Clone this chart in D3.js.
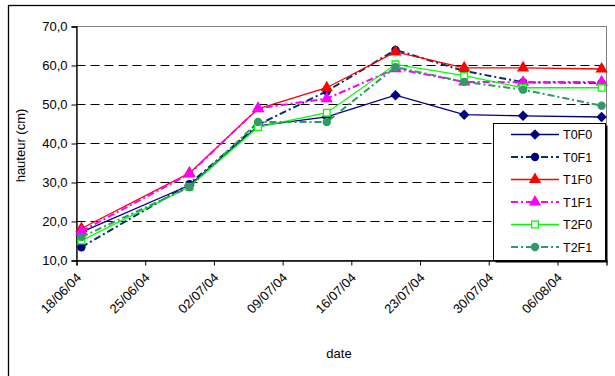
<!DOCTYPE html>
<html>
<head>
<style>
  body, html { margin: 0; padding: 0; background: #fff; }
  svg text { font-family: "Liberation Sans", Arial, sans-serif; fill: #000; }
</style>
</head>
<body>
<svg id="svg" width="615" height="376"></svg>
<script src="https://d3js.org/d3.v7.min.js"></script>
<script>
const dates = ["18/06/04", "29/06/04", "06/07/04", "13/07/04", "20/07/04", "27/07/04", "02/08/04", "10/08/04"]
const tickDates = ["18/06/04", "25/06/04", "02/07/04", "09/07/04", "16/07/04", "23/07/04", "30/07/04", "06/08/04"]
const yTicks = [10, 20, 30, 40, 50, 60, 70]

const T0F0 = [17.3, 29.3, 44.5, 46.8, 52.4, 47.4, 47.1, 46.8]
const T0F1 = [13.4, 29.6, 44.8, 53.4, 64.0, 58.6, 55.7, 55.5]
const T1F0 = [18.2, 32.4, 48.9, 54.3, 63.5, 59.4, 59.4, 59.1]
const T1F1 = [17.5, 32.2, 49.0, 51.5, 59.2, 55.8, 55.7, 55.8]
const T2F0 = [15.1, 28.9, 44.2, 47.9, 60.3, 57.4, 54.3, 54.3]
const T2F1 = [16.0, 28.8, 45.5, 45.5, 59.6, 55.8, 53.8, 49.7]

const series = [
  { name: "T0F0", values: T0F0, color: "#000080", dash: null, marker: "diamond", fill: "#000080" },
  { name: "T0F1", values: T0F1, color: "#003366", dash: "7,3,2,3", marker: "circle", fill: "#000080" },
  { name: "T1F0", values: T1F0, color: "#FF0000", dash: null, marker: "triangle", fill: "#FF0000" },
  { name: "T1F1", values: T1F1, color: "#FF00FF", dash: "7,3,2,3", marker: "triangle", fill: "#FF00FF" },
  { name: "T2F0", values: T2F0, color: "#00FF00", dash: null, marker: "square", fill: "#FFFFFF" },
  { name: "T2F1", values: T2F1, color: "#339966", dash: "7,3,2,3", marker: "circle", fill: "#339966" }
]

const parse = d3.timeParse("%d/%m/%y")
const day = 24 * 3600 * 1000
const plot = { left: 76.5, right: 606.5, top: 26.5, bottom: 260.5 }

const x = d3.scaleTime()
  .domain([parse("18/06/04"), parse("11/08/04")])
  .range([plot.left, plot.right])
const y = d3.scaleLinear().domain([10, 70]).range([plot.bottom, plot.top])
// points sit in the middle of their day
const px = s => x(new Date(parse(s).getTime() + day / 2))
const crisp = v => Math.round(v - 0.5) + 0.5

const svg = d3.select("#svg")

// outer chart frame
svg.append("rect")
  .attr("x", 8.5).attr("y", 5.5).attr("width", 620).attr("height", 400)
  .attr("fill", "none").attr("stroke", "#000").attr("stroke-width", 1.3)

// plot area border (grey top/right)
svg.append("rect")
  .attr("x", plot.left).attr("y", plot.top)
  .attr("width", plot.right - plot.left).attr("height", plot.bottom - plot.top)
  .attr("fill", "none").attr("stroke", "#808080").attr("stroke-width", 1)

// gridlines
svg.append("g")
  .selectAll("line")
  .data(yTicks.filter(v => v > 10 && v < 70))
  .join("line")
  .attr("x1", plot.left).attr("x2", plot.right)
  .attr("y1", d => crisp(y(d))).attr("y2", d => crisp(y(d)))
  .attr("stroke", "#000").attr("stroke-dasharray", "9,5")

// y axis
const yAxis = svg.append("g")
  .attr("transform", `translate(${plot.left},0)`)
  .call(d3.axisLeft(y).tickValues(yTicks).tickSize(5).tickPadding(4)
    .tickFormat(d => d3.format(".1f")(d).replace(".", ",")))
yAxis.select(".domain").attr("stroke", "#000").attr("stroke-width", 1.3)
yAxis.selectAll("text").style("font-size", "13px")

// x axis
const xAxis = svg.append("g")
  .attr("transform", `translate(0,${plot.bottom})`)
  .call(d3.axisBottom(x).tickValues(tickDates.map(parse)).tickSize(5).tickFormat(d3.timeFormat("%d/%m/%y")))
xAxis.select(".domain").attr("stroke", "#000").attr("stroke-width", 1.3)
xAxis.selectAll("text")
  .style("font-size", "13px")
  .attr("text-anchor", "end")
  .attr("dy", null)
  .attr("y", 0)
  .attr("transform", "translate(5,18) rotate(-45)")

// axis titles
svg.append("text")
  .attr("transform", `translate(25,${(plot.top + plot.bottom) / 2 + 2}) rotate(-90)`)
  .attr("text-anchor", "middle")
  .style("font-size", "13px")
  .text("hauteur (cm)")
svg.append("text")
  .attr("x", 339).attr("y", 358)
  .attr("text-anchor", "middle")
  .style("font-size", "13px")
  .text("date")

const symbolFor = m => ({
  diamond: d3.symbol().type(d3.symbolSquare).size(55),
  circle: d3.symbol().type(d3.symbolCircle).size(55),
  triangle: d3.symbol().type(d3.symbolTriangle).size(65),
  square: d3.symbol().type(d3.symbolSquare).size(45)
})[m]

const line = d3.line().x((d, i) => px(dates[i])).y(d => y(d))

series.forEach(s => {
  const g = svg.append("g")
  g.append("path")
    .attr("d", line(s.values))
    .attr("fill", "none")
    .attr("stroke", s.color)
    .attr("stroke-width", s.dash ? 2 : 1.3)
    .attr("stroke-dasharray", s.dash)
  g.selectAll("path.m")
    .data(s.values)
    .join("path")
    .attr("class", "m")
    .attr("d", symbolFor(s.marker)())
    .attr("transform", (d, i) => `translate(${px(dates[i])},${y(d)})` + (s.marker === "diamond" ? " rotate(45)" : ""))
    .attr("fill", s.fill)
    .attr("stroke", s.marker === "square" ? s.color : "none")
    .attr("stroke-width", 1.3)
})

// legend
const lg = svg.append("g")
lg.append("rect")
  .attr("x", 495.5).attr("y", 125.5).attr("width", 112).attr("height", 137)
  .attr("fill", "#000")
lg.append("rect")
  .attr("x", 493.5).attr("y", 123.5).attr("width", 112).attr("height", 137)
  .attr("fill", "#fff").attr("stroke", "#000").attr("stroke-width", 1)

const ly = d3.scalePoint().domain(series.map(s => s.name)).range([134.5, 247]).padding(0)
series.forEach(s => {
  const cy = ly(s.name)
  lg.append("line")
    .attr("x1", 511).attr("x2", 559).attr("y1", cy).attr("y2", cy)
    .attr("stroke", s.color)
    .attr("stroke-width", s.dash ? 2 : 1.3)
    .attr("stroke-dasharray", s.dash)
  lg.append("path")
    .attr("d", symbolFor(s.marker)())
    .attr("transform", `translate(535,${cy})` + (s.marker === "diamond" ? " rotate(45)" : ""))
    .attr("fill", s.fill)
    .attr("stroke", s.marker === "square" ? s.color : "none")
    .attr("stroke-width", 1.3)
  lg.append("text")
    .attr("x", 563).attr("y", cy + 4.5)
    .style("font-size", "12.5px")
    .text(s.name)
})
</script>
</body>
</html>
